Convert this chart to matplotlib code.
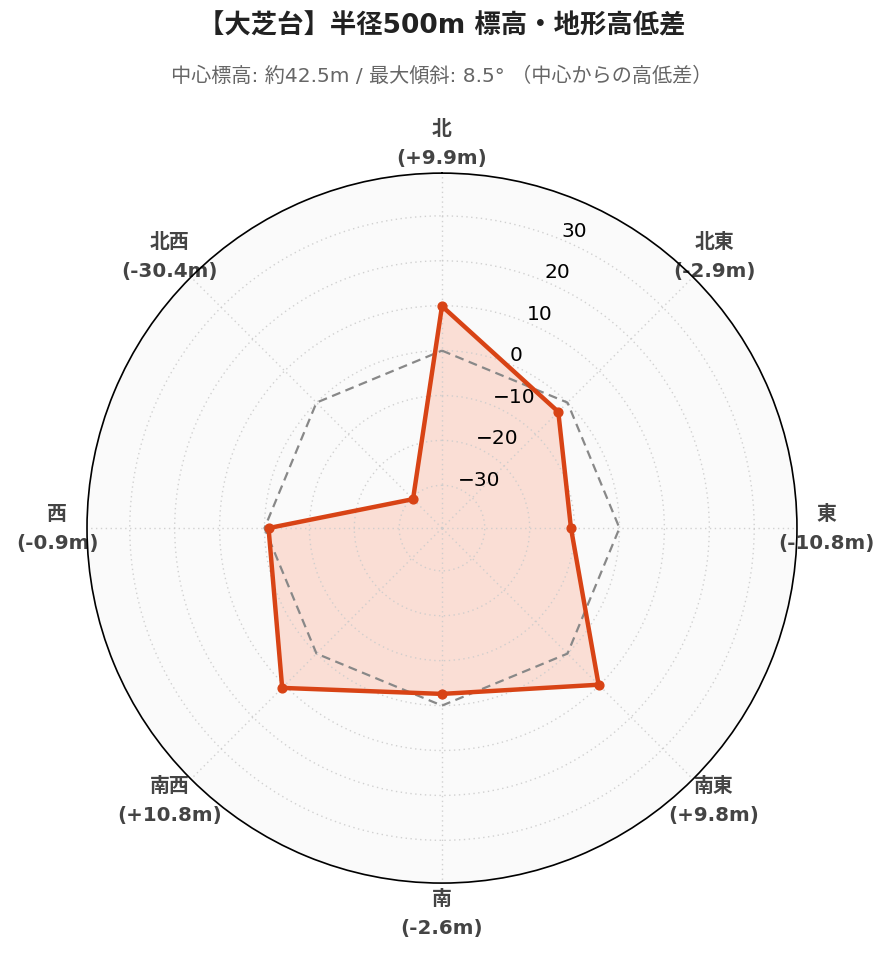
import numpy as np
import matplotlib.pyplot as plt

plt.rcParams['font.family'] = ['DejaVu Sans', 'Noto Sans CJK JP']

directions = ['北', '北東', '東', '南東', '南', '南西', '西', '北西']
diffs = [9.9, -2.9, -10.8, 9.8, -2.6, 10.8, -0.9, -30.4]
rticks = [-30, -20, -10, 0, 10, 20, 30]

lim = max(abs(v) for v in diffs) * 1.3
theta = np.deg2rad(np.arange(len(directions)) * 45)
th = np.append(theta, theta[0])
vals = np.append(diffs, diffs[0])

fig = plt.figure(figsize=(8.92, 9.62), dpi=100)
ax = fig.add_axes([0.0975, 0.081, 0.796, 0.738], projection='polar')
ax.set_theta_zero_location('N')
ax.set_theta_direction(-1)
ax.set_ylim(-lim, lim)
ax.set_facecolor('#fafafa')

ax.fill(th, vals, color='#ff7043', alpha=0.2, lw=0, zorder=1)
ax.plot(th, np.zeros_like(th), color='#888888', lw=1.6, ls=(0, (4, 2.5)), zorder=3)
ax.plot(th, vals, color='#d84315', lw=3.2, zorder=4)
ax.scatter(theta, diffs, color='#d84315', s=40, zorder=5)

ax.set_xticks(theta)
labels = [f'{d}\n({v:+.1f}m)' for d, v in zip(directions, diffs)]
ax.set_xticklabels(labels, fontsize=14.3, fontweight='bold', color='#444444',
                   family=['DejaVu Sans', 'Noto Sans CJK JP'], linespacing=1.68)
ax.tick_params(axis='x', pad=11)
ax.set_yticks(rticks)
ax.set_yticklabels([f'{t}'.replace('-', '\u2212') for t in rticks], fontsize=14.5,
                   family='DejaVu Sans')
ax.set_rlabel_position(22.5)
ax.grid(True, color='#cccccc', ls=(0, (1, 2.5)), lw=1.0, alpha=0.9, zorder=2)
ax.spines['polar'].set_color('black')
ax.spines['polar'].set_linewidth(1.2)
ax.spines['polar'].set_zorder(10)

fig.text(0.4955, 0.972, '【大芝台】半径500m 標高・地形高低差', ha='center', va='center',
         fontsize=19, fontweight='bold', color='#222222',
         family=['DejaVu Sans', 'Noto Sans CJK JP'])
fig.text(0.4955, 0.921, '中心標高: 約42.5m / 最大傾斜: 8.5° （中心からの高低差）',
         ha='center', va='center', fontsize=14.5, color='#666666',
         family=['DejaVu Sans', 'Noto Sans CJK JP'])

fig.savefig('out.png', dpi=100)
